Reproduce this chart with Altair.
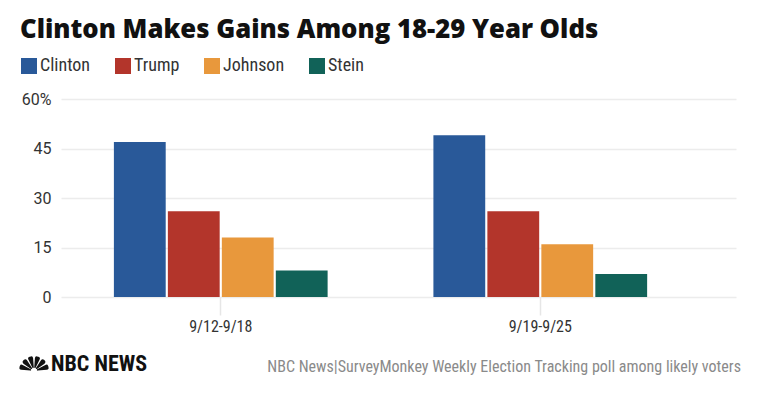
import altair as alt
import pandas as pd
import math

weeks = ["9/12-9/18", "9/19-9/25"]
candidates = ["Clinton", "Trump", "Johnson", "Stein"]
clinton = [47, 49]
trump = [26, 26]
johnson = [18, 16]
stein = [8, 7]
colors = ["#295999", "#b3352b", "#e8983c", "#116258"]
y_ticks = [0, 15, 30, 45, 60]

title_text = ["Clinton Makes Gains Among 18-29 Year Olds"]
source_text = ["NBC News|SurveyMonkey Weekly Election Tracking poll among likely voters"]
logo_text = ["NBC NEWS"]
# peacock logo feathers: start/end angle in degrees
feather_start = [-84, -55, -26, 4, 33, 62]
feather_end = [-62, -33, -4, 26, 55, 84]

rows = []
for cand, vals in zip(candidates, [clinton, trump, johnson, stein]):
    for w, v in zip(weeks, vals):
        rows.append({"week": w, "candidate": cand, "value": v})
df = pd.DataFrame(rows)

COND = "Roboto Condensed, Liberation Sans Narrow, DejaVu Sans Condensed, sans-serif"

bars = alt.Chart(df).mark_bar().encode(
    x=alt.X("week:N", sort=weeks,
            scale=alt.Scale(range=[-2, 673], paddingInner=0, paddingOuter=0.0563, align=0),
            axis=alt.Axis(title=None, labelAngle=0, domain=False, ticks=True,
                          tickColor="#e6e6e6", tickSize=18, tickWidth=1.5,
                          labelPadding=3, labelFontSize=16, labelColor="#333",
                          labelFont=COND, labelFontWeight="normal", grid=False)),
    xOffset=alt.XOffset("candidate:N", sort=candidates,
                        scale=alt.Scale(paddingInner=0.04, paddingOuter=0.98)),
    y=alt.Y("value:Q", scale=alt.Scale(domain=[0, 60]),
            axis=alt.Axis(values=y_ticks, title=None, domain=False, ticks=False,
                          gridColor="#ececec", gridWidth=1.5, labelPadding=12,
                          labelFontSize=16, labelColor="#333", labelFont="Roboto",
                          labelExpr="datum.value == 60 ? '60%' : datum.label")),
    color=alt.Color("candidate:N", sort=candidates,
                    scale=alt.Scale(domain=candidates, range=colors),
                    legend=alt.Legend(title=None, orient="none", legendX=-43, legendY=-42,
                                      direction="horizontal", symbolType="square",
                                      symbolSize=256, symbolStrokeWidth=0,
                                      labelFontSize=18, labelColor="#333", labelFont=COND,
                                      columnPadding=23, labelOffset=2)),
)

title = alt.Chart(pd.DataFrame({"t": title_text})).mark_text(
    align="left", baseline="alphabetic", fontSize=25.7, fontWeight=800,
    font="Open Sans", color="#111"
).encode(text="t:N", x=alt.value(-43), y=alt.value(-61))

source = alt.Chart(pd.DataFrame({"t": source_text})).mark_text(
    align="right", baseline="alphabetic", fontSize=16, font=COND, color="#8a8a8a"
).encode(text="t:N", x=alt.value(678), y=alt.value(273))

logo = alt.Chart(pd.DataFrame({"t": logo_text})).mark_text(
    align="left", baseline="alphabetic", fontSize=22, font=COND, fontWeight="bold",
    color="#111"
).encode(text="t:N", x=alt.value(-12), y=alt.value(272))

feathers = pd.DataFrame({
    "a0": [math.radians(a) for a in feather_start],
    "a1": [math.radians(a) for a in feather_end],
})
peacock = alt.Chart(feathers).mark_arc(
    color="#111", innerRadius=3, outerRadius=15, cornerRadius=2
).encode(
    theta=alt.Theta("a0:Q", scale=None), theta2="a1:Q",
    x=alt.value(-29), y=alt.value(272),
)

chart = alt.layer(bars, title, source, logo, peacock).properties(
    width=673, height=198,
    autosize=alt.AutoSizeParams(type="none"),
    padding={"left": 55, "top": 91, "right": 16, "bottom": 94},
    background="white",
).configure_view(stroke=None)

chart.save("out.html", embed_options={"renderer": "svg", "actions": False})
